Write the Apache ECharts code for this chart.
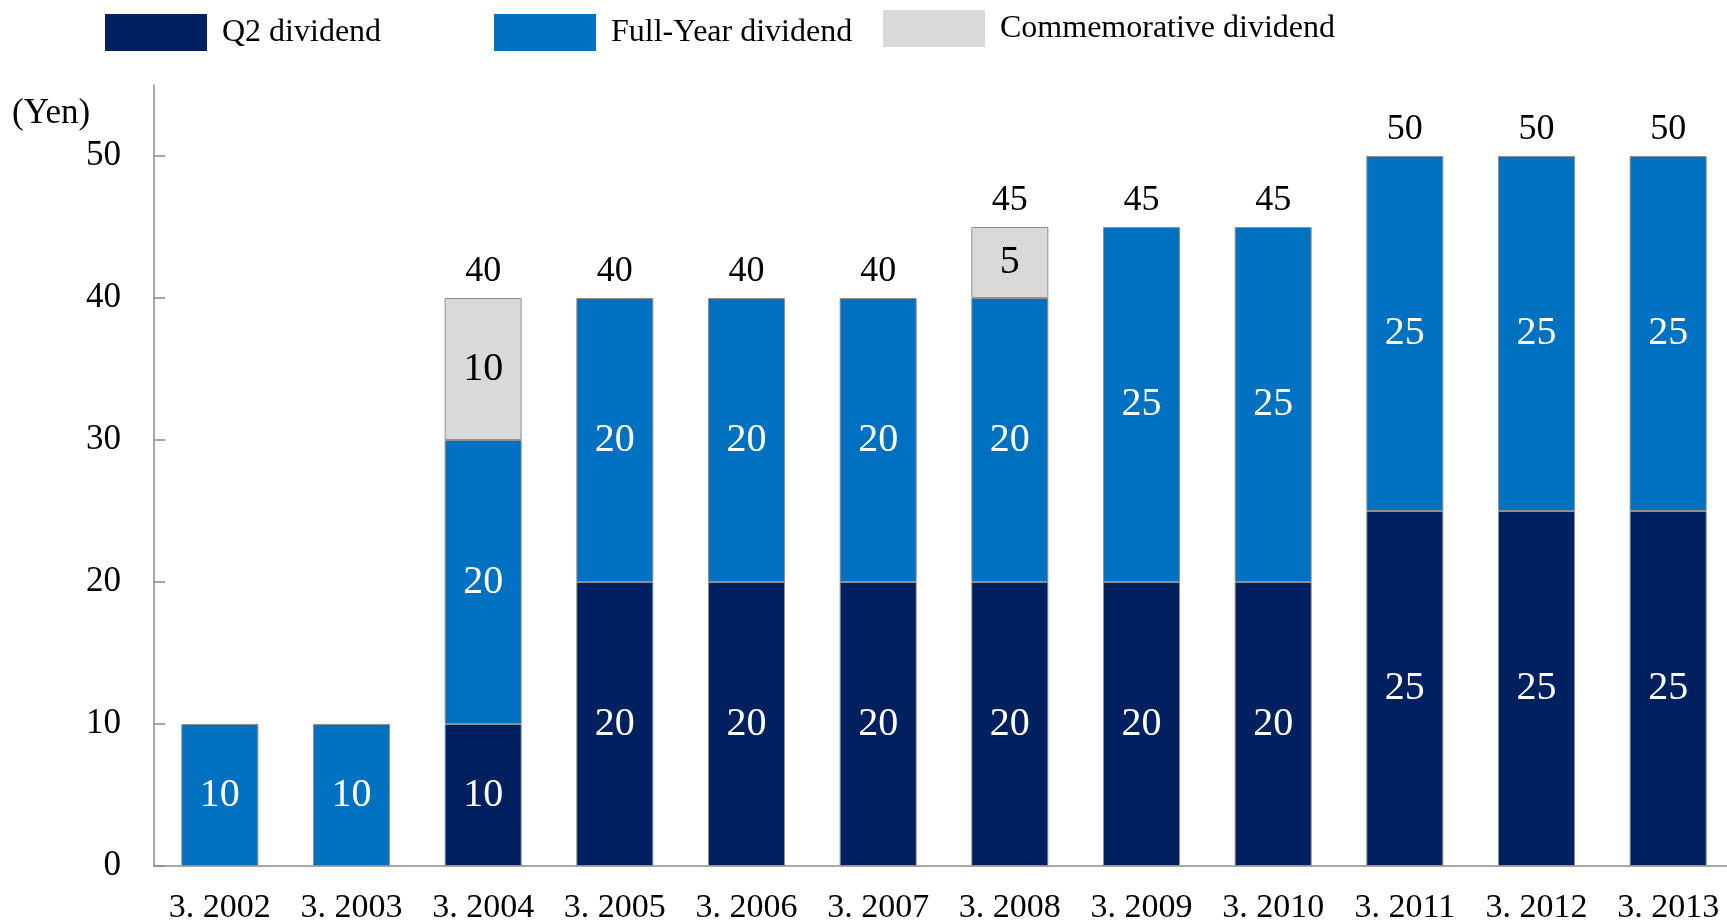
<!DOCTYPE html>
<html>
<head>
<meta charset="utf-8">
<title>Dividends</title>
<script src="https://cdn.jsdelivr.net/npm/echarts@6/dist/echarts.min.js"></script>
<style>
    html, body { margin: 0; padding: 0; background: #fff; }
    #chart { width: 1727px; height: 921px; }
</style>
</head>
<body>
<div id="chart"></div>
<script>
"use strict";
var years = ["3. 2002", "3. 2003", "3. 2004", "3. 2005", "3. 2006", "3. 2007",
    "3. 2008", "3. 2009", "3. 2010", "3. 2011", "3. 2012", "3. 2013"];
var q2Dividend = ["-", "-", 10, 20, 20, 20, 20, 20, 20, 25, 25, 25];
var fullYearDividend = [10, 10, 20, 20, 20, 20, 20, 25, 25, 25, 25, 25];
var commemorativeDividend = ["-", "-", 10, "-", "-", "-", 5, "-", "-", "-", "-", "-"];
var totalDividend = ["-", "-", 40, 40, 40, 40, 45, 45, 45, 50, 50, 50];
var yTicks = [0, 10, 20, 30, 40, 50];

var FONT = "'Liberation Serif', 'Times New Roman', serif";
var AXIS_COLOR = "#8c8c8c";

var chart = echarts.init(document.getElementById("chart"));

// 一个系列一个图例，位置单独指定
function legendAt(name, left, top) {
    return {
        data: [name],
        left: left,
        top: top,
        padding: 0,
        itemWidth: 102,
        itemHeight: 37,
        selectedMode: false,
        icon: "rect",
        itemStyle: { borderWidth: 0 },
        textStyle: { fontFamily: FONT, fontSize: 32, color: "#000", padding: [0, 0, 0, 10] }
    };
}

function inner(color, size) {
    return {
        show: true,
        position: "inside",
        color: color,
        fontFamily: FONT,
        fontSize: size
    };
}

var barBorder = { borderColor: "#8f8f8f", borderWidth: 1 };

var option = {
    animation: false,
    legend: [
        legendAt("Q2 dividend", 105, 14),
        legendAt("Full-Year dividend", 494, 14),
        legendAt("Commemorative dividend", 883, 10)
    ],
    graphic: [{
        type: "text",
        left: 12,
        top: 96,
        style: { text: "(Yen)", fontFamily: FONT, fontSize: 35, fill: "#000" }
    }],
    grid: { left: 154, right: -7, top: 85, bottom: 55, containLabel: false, outerBoundsMode: "none" },
    xAxis: {
        type: "category",
        data: years,
        axisLine: { lineStyle: { color: AXIS_COLOR, width: 1.5 } },
        axisTick: { inside: true, length: 10, lineStyle: { color: AXIS_COLOR, width: 1.5 } },
        axisLabel: { fontFamily: FONT, fontSize: 34, color: "#000", margin: 25, interval: 0 }
    },
    yAxis: {
        type: "value",
        min: 0,
        max: 55,
        interval: 10,
        splitLine: { show: false },
        axisLine: { show: true, lineStyle: { color: AXIS_COLOR, width: 1.5 } },
        axisTick: { show: true, inside: true, length: 11, customValues: yTicks,
            lineStyle: { color: AXIS_COLOR, width: 1.5 } },
        axisLabel: { fontFamily: FONT, fontSize: 35, color: "#000", margin: 33, customValues: yTicks }
    },
    series: [
        {
            name: "Q2 dividend",
            type: "bar",
            stack: "div",
            barWidth: 77,
            data: q2Dividend,
            itemStyle: Object.assign({ color: "#00205f" }, barBorder),
            label: inner("#fff", 40)
        },
        {
            name: "Full-Year dividend",
            type: "bar",
            stack: "div",
            barWidth: 77,
            data: fullYearDividend,
            itemStyle: Object.assign({ color: "#0070c0" }, barBorder),
            label: inner("#fff", 40)
        },
        {
            name: "Commemorative dividend",
            type: "bar",
            stack: "div",
            barWidth: 77,
            data: commemorativeDividend,
            itemStyle: Object.assign({ color: "#d9d9d9" }, barBorder),
            label: inner("#000", 40)
        },
        {
            // 合计标签
            name: "total",
            type: "bar",
            stack: "div",
            barWidth: 77,
            data: totalDividend.map(function (v) { return v === "-" ? "-" : 0; }),
            itemStyle: { color: "transparent", borderWidth: 0 },
            label: {
                show: true,
                position: "top",
                distance: 8,
                color: "#000",
                fontFamily: FONT,
                fontSize: 36,
                formatter: function (p) { return totalDividend[p.dataIndex]; }
            }
        }
    ]
};

chart.setOption(option);
</script>
</body>
</html>
